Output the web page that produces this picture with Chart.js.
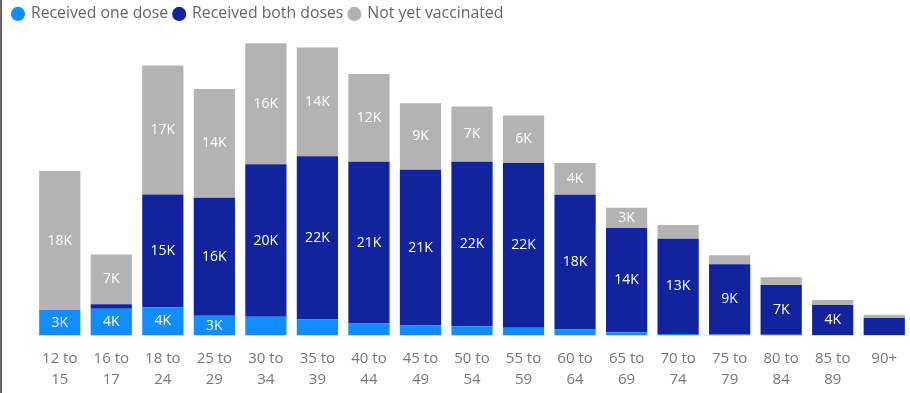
<!DOCTYPE html>
<html>
<head>
<meta charset="utf-8">
<script src="https://cdn.jsdelivr.net/npm/chart.js@4.4.1/dist/chart.umd.min.js"></script>
<style>
  html, body { margin: 0; padding: 0; background: #fff; }
  #wrap { width: 908px; height: 393px; border-left: 2px solid #666; }
</style>
</head>
<body>
<div id="wrap"><canvas id="myChart" width="908" height="393"></canvas></div>
<script>
// age groups and counts in thousands
const ageGroups = [
    ['12 to', '15'], ['16 to', '17'], ['18 to', '24'], ['25 to', '29'], ['30 to', '34'],
    ['35 to', '39'], ['40 to', '44'], ['45 to', '49'], ['50 to', '54'], ['55 to', '59'],
    ['60 to', '64'], ['65 to', '69'], ['70 to', '74'], ['75 to', '79'], ['80 to', '84'],
    ['85 to', '89'], '90+'
];
const oneDose       = [3.36, 3.55, 3.75, 2.63, 2.47, 2.13, 1.6, 1.34, 1.21, 1.03, 0.82, 0.42, 0.2, 0.13, 0.1, 0.08, 0.05];
const bothDoses     = [0, 0.57, 14.9, 15.6, 20.2, 21.6, 21.4, 20.6, 21.8, 21.8, 17.8, 13.8, 12.6, 9.3, 6.6, 3.95, 2.26];
const notVaccinated = [18.4, 6.6, 17.1, 14.4, 16.0, 14.4, 11.6, 8.8, 7.3, 6.3, 4.2, 2.7, 1.84, 1.18, 1.0, 0.66, 0.43];

// writes the value in the middle of each segment that is tall enough
const segmentLabels = {
    id: 'segmentLabels',
    afterDatasetsDraw(chart) {
        const ctx = chart.ctx;
        ctx.save();
        ctx.font = "14px 'Open Sans', sans-serif";
        ctx.fillStyle = '#ffffff';
        ctx.textAlign = 'center';
        ctx.textBaseline = 'middle';
        chart.data.datasets.forEach((ds, i) => {
            chart.getDatasetMeta(i).data.forEach((bar, j) => {
                const h = Math.abs(bar.base - bar.y);
                if (h < 19.2) return;
                ctx.fillText(Math.round(ds.data[j]) + 'K', bar.x, (bar.y + bar.base) / 2);
            });
        });
        ctx.restore();
    }
};

new Chart(document.getElementById("myChart"), {
    type: 'bar',
    data: {
        labels: ageGroups,
        datasets: [
            { label: 'Received one dose', data: oneDose, backgroundColor: '#118DFF' },
            { label: 'Received both doses', data: bothDoses, backgroundColor: '#12239E' },
            { label: 'Not yet vaccinated', data: notVaccinated, backgroundColor: '#B3B3B3' }
        ]
    },
    options: {
        responsive: false,
        animation: false,
        layout: { padding: { left: 5, right: 0, top: 0, bottom: 0 } },
        datasets: { bar: { categoryPercentage: 0.8, barPercentage: 1.0 } },
        scales: {
            x: {
                stacked: true,
                grid: { display: false },
                border: { display: false },
                ticks: {
                    color: '#777',
                    font: { family: "'Open Sans', sans-serif", size: 15, lineHeight: 1.4 },
                    padding: 5,
                    maxRotation: 0,
                    autoSkip: false
                },
                afterFit: (scale) => { scale.height = 57.5; }
            },
            y: {
                stacked: true,
                min: 0,
                max: 40.2,
                grid: { display: false },
                border: { display: false },
                ticks: { display: false },
                afterFit: (scale) => { scale.width = 27; }
            }
        },
        plugins: {
            legend: {
                position: 'top',
                align: 'start',
                labels: {
                    usePointStyle: true,
                    pointStyle: 'circle',
                    boxWidth: 10,
                    boxHeight: 10,
                    padding: 6,
                    color: '#666',
                    font: { family: "'Open Sans', sans-serif", size: 15.8 }
                }
            },
            tooltip: { enabled: false }
        }
    },
    plugins: [segmentLabels]
});
</script>
</body>
</html>
